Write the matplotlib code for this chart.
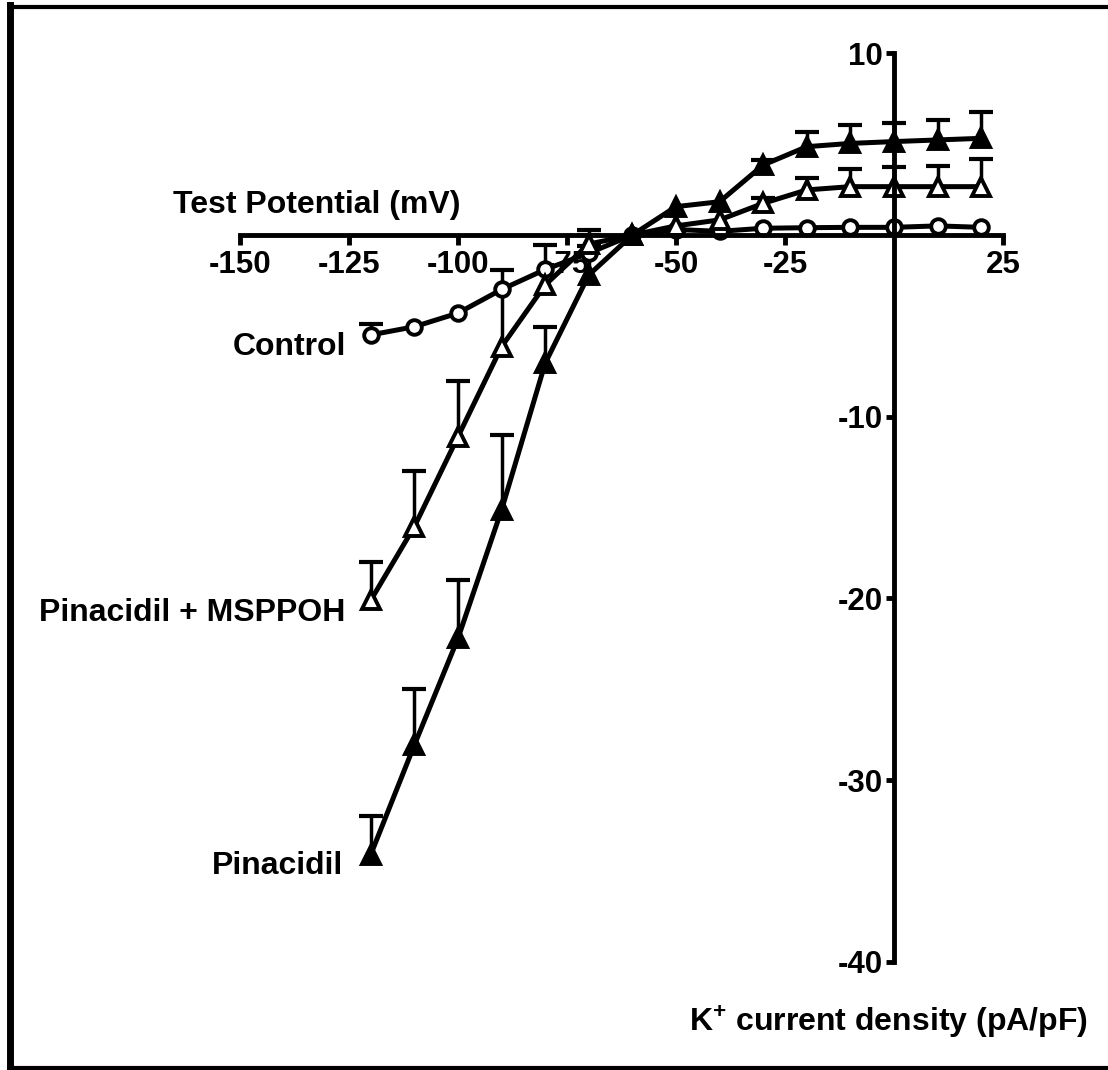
import matplotlib.pyplot as plt
import numpy as np
from matplotlib.lines import Line2D

plt.rcParams['font.family'] = ['Liberation Sans', 'DejaVu Sans']
plt.rcParams['font.weight'] = 'bold'
plt.rcParams['mathtext.fontset'] = 'custom'
plt.rcParams['mathtext.rm'] = 'Liberation Sans:bold'
plt.rcParams['mathtext.bf'] = 'Liberation Sans:bold'

# test potentials (mV)
voltage = [-120, -110, -100, -90, -80, -70, -60, -50, -40, -30, -20, -10, 0, 10, 20]

# K+ current density (pA/pF), mean and upper SEM
control = [-5.5, -5.05, -4.3, -3.0, -1.9, -1.0, 0.0, 0.3, 0.2, 0.37, 0.4, 0.42, 0.42, 0.5, 0.42]
control_err = [0.6, 0, 0, 0, 0, 0.4, 0, 0, 0, 0, 0, 0, 0, 0, 0]

pin_msppoh = [-20.1, -16.05, -11.1, -6.15, -2.75, -0.5, 0.0, 0.5, 0.83, 1.74, 2.48, 2.66, 2.66, 2.66, 2.66]
pin_msppoh_err = [2.1, 3.05, 3.05, 4.2, 2.2, 0.5, 0, 0, 0, 0.3, 0.64, 0.95, 1.06, 1.14, 1.51]

pinacidil = [-34.1, -28.07, -22.2, -15.13, -7.06, -2.2, 0.0, 1.56, 1.83, 3.85, 4.86, 5.04, 5.14, 5.23, 5.32]
pinacidil_err = [2.1, 3.07, 3.2, 4.13, 2.0, 2.5, 0, 0, 0, 0.3, 0.83, 1.01, 1.04, 1.1, 1.47]

x_ticks = [-150, -125, -100, -75, -50, -25, 25]
y_ticks = [-40, -30, -20, -10, 10]

fig = plt.figure(figsize=(11.08, 10.70), dpi=100)
ax = fig.add_axes([0.2166, 0.1012, 0.6886, 0.849])
ax.set_xlim(-150, 25)
ax.set_ylim(-40, 10)

series = [
    (control, control_err, 'o', 'white', 10.5),
    (pin_msppoh, pin_msppoh_err, '^', 'white', 12.5),
    (pinacidil, pinacidil_err, '^', 'black', 12.5),
]

for y, err, marker, face, size in series:
    x = np.array(voltage)
    y = np.array(y)
    err = np.array(err)
    keep = err > 0
    # upper error bars only: stem plus a cap marker
    ax.vlines(x[keep], y[keep], y[keep] + err[keep], color='black', lw=2.5, zorder=3)
    ax.plot(x[keep], y[keep] + err[keep], linestyle='none', marker='_',
            markersize=17, markeredgewidth=3, color='black', zorder=3)
    ax.plot(x, y, color='black', lw=3.6, marker=marker, markersize=size,
            markerfacecolor=face, markeredgecolor='black', markeredgewidth=2.8,
            zorder=4, clip_on=False)

for side in ['top', 'right']:
    ax.spines[side].set_visible(False)
ax.spines['left'].set_position(('data', 0))
ax.spines['bottom'].set_position(('data', 0))
ax.spines['left'].set_linewidth(3.5)
ax.spines['bottom'].set_linewidth(3.5)
ax.spines['left'].set_zorder(5)
ax.spines['bottom'].set_zorder(5)

ax.set_xticks(x_ticks)
ax.set_xticklabels([str(t) for t in x_ticks])
ax.set_yticks(y_ticks)
ax.set_yticklabels([str(t) for t in y_ticks])
ax.tick_params(axis='x', direction='out', length=7, width=3.5, pad=4, labelsize=22.5)
ax.tick_params(axis='y', direction='out', length=6, width=3.5, pad=2, labelsize=22.5)
for lab in ax.get_xticklabels() + ax.get_yticklabels():
    lab.set_fontweight('bold')

fs = 23
fig.text(0.286, 0.808, 'Test Potential (mV)', ha='center', va='center', fontsize=fs, fontweight='bold')
fig.text(0.312, 0.676, 'Control', ha='right', va='center', fontsize=fs, fontweight='bold')
fig.text(0.312, 0.427, 'Pinacidil + MSPPOH', ha='right', va='center', fontsize=fs, fontweight='bold')
fig.text(0.310, 0.191, 'Pinacidil', ha='right', va='center', fontsize=fs, fontweight='bold')
fig.text(0.982, 0.045, r'K$^{+}$ current density (pA/pF)', ha='right', va='center',
         fontsize=fs, fontweight='bold')

# outer frame (open on the right)
fig.add_artist(Line2D([0.0086, 1.0], [0.993, 0.993], color='black', lw=3, transform=fig.transFigure))
fig.add_artist(Line2D([0.0086, 0.0086], [0.0, 0.995], color='black', lw=5, transform=fig.transFigure))
fig.add_artist(Line2D([0.0086, 1.0], [0.0023, 0.0023], color='black', lw=3, transform=fig.transFigure))

fig.savefig('out.png', dpi=100)
